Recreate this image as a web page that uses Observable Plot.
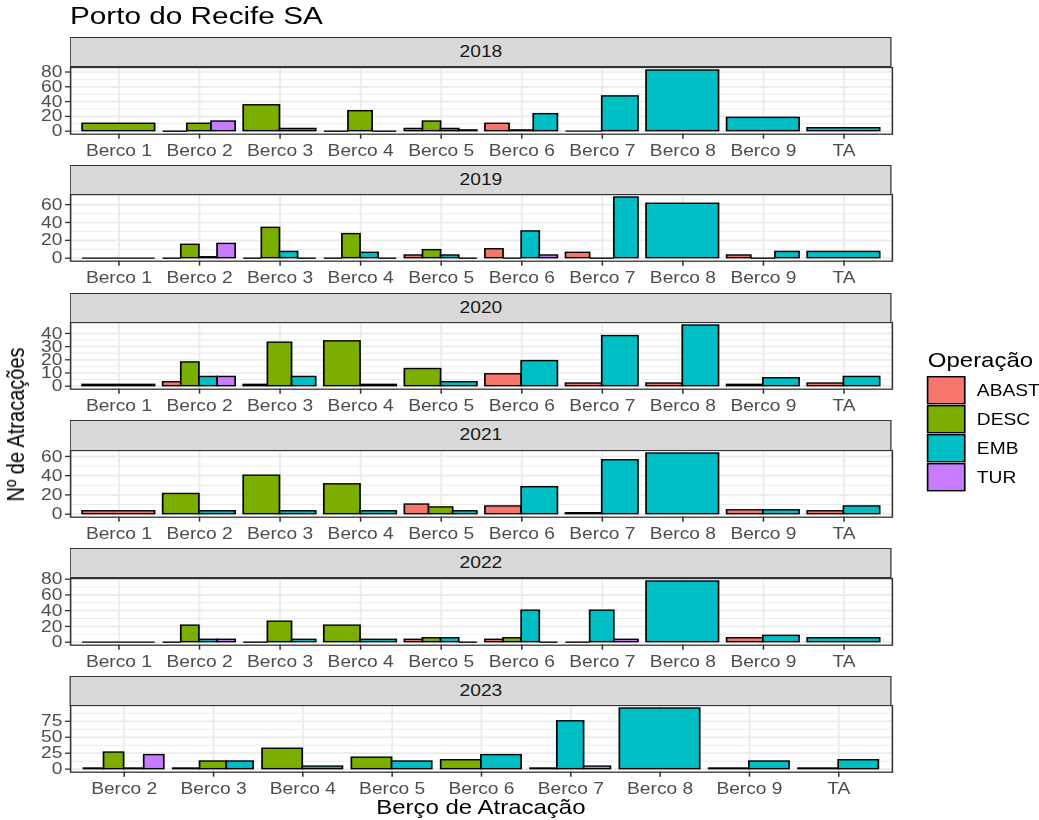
<!DOCTYPE html>
<html><head><meta charset="utf-8">
<script src="https://cdn.jsdelivr.net/npm/d3@7"></script>
<script src="https://cdn.jsdelivr.net/npm/@observablehq/plot@0.6"></script>
<style>
html,body{margin:0;padding:0;background:#fff;overflow:hidden;}
#wrap{position:relative;width:866px;height:820px;transform:scaleX(1.1998);transform-origin:0 0;font-family:"Liberation Sans",Arial,sans-serif;}
.strip{position:absolute;box-sizing:border-box;background:#D9D9D9;border:1.3px solid #333;color:#1A1A1A;font-size:16px;display:flex;align-items:center;justify-content:center;}
.panel{position:absolute;left:0;}
#overlay{position:absolute;left:0;top:0;}
</style></head><body><div id="wrap"></div>
<script>
// ---------- text ----------
const chartTitle = "Porto do Recife SA";
const xTitle = "Berço de Atracação";
const yTitle = "Nº de Atracações";
const legendTitle = "Operação";

// ---------- categories ----------
const operations = ["ABAST", "DESC", "EMB", "TUR"];
const opColors = ["#F8766D", "#7CAE00", "#00BFC4", "#C77CFF"];
const years = ["2018", "2019", "2020", "2021", "2022", "2023"];
const bercosAll = ["Berco 1", "Berco 2", "Berco 3", "Berco 4", "Berco 5", "Berco 6", "Berco 7", "Berco 8", "Berco 9", "TA"];
const bercos2023 = ["Berco 2", "Berco 3", "Berco 4", "Berco 5", "Berco 6", "Berco 7", "Berco 8", "Berco 9", "TA"];

// ---------- y tick labels per facet ----------
const yTicks2018 = [0, 20, 40, 60, 80];
const yTicks2019 = [0, 20, 40, 60];
const yTicks2020 = [0, 10, 20, 30, 40];
const yTicks2021 = [0, 20, 40, 60];
const yTicks2022 = [0, 20, 40, 60, 80];
const yTicks2023 = [0, 25, 50, 75];

// ---------- values: [berço, operação, nº de atracações] ----------
const bars2018 = [
  ["Berco 1","DESC",10],
  ["Berco 2","ABAST",0],["Berco 2","DESC",10],["Berco 2","TUR",13],
  ["Berco 3","DESC",35],["Berco 3","EMB",3],
  ["Berco 4","ABAST",0],["Berco 4","DESC",27],["Berco 4","EMB",0],
  ["Berco 5","ABAST",3],["Berco 5","DESC",13],["Berco 5","EMB",3],["Berco 5","TUR",1],
  ["Berco 6","ABAST",10],["Berco 6","DESC",1],["Berco 6","EMB",23],
  ["Berco 7","ABAST",0],["Berco 7","EMB",47],
  ["Berco 8","EMB",82],
  ["Berco 9","EMB",18],
  ["TA","EMB",4]
];
const bars2019 = [
  ["Berco 1","DESC",0],
  ["Berco 2","ABAST",0],["Berco 2","DESC",15],["Berco 2","EMB",1],["Berco 2","TUR",16],
  ["Berco 3","ABAST",0],["Berco 3","DESC",34],["Berco 3","EMB",7],["Berco 3","TUR",0],
  ["Berco 4","ABAST",0],["Berco 4","DESC",27],["Berco 4","EMB",6],["Berco 4","TUR",0],
  ["Berco 5","ABAST",3],["Berco 5","DESC",9],["Berco 5","EMB",3],["Berco 5","TUR",0],
  ["Berco 6","ABAST",10],["Berco 6","DESC",0],["Berco 6","EMB",30],["Berco 6","TUR",3],
  ["Berco 7","ABAST",6],["Berco 7","DESC",0],["Berco 7","EMB",68],
  ["Berco 8","EMB",61],
  ["Berco 9","ABAST",3],["Berco 9","DESC",0],["Berco 9","EMB",7],
  ["TA","EMB",7]
];
const bars2020 = [
  ["Berco 1","DESC",1],
  ["Berco 2","ABAST",3],["Berco 2","DESC",18],["Berco 2","EMB",7],["Berco 2","TUR",7],
  ["Berco 3","ABAST",1],["Berco 3","DESC",33],["Berco 3","EMB",7],
  ["Berco 4","DESC",34],["Berco 4","EMB",1],
  ["Berco 5","DESC",13],["Berco 5","EMB",3],
  ["Berco 6","ABAST",9],["Berco 6","EMB",19],
  ["Berco 7","ABAST",2],["Berco 7","EMB",38],
  ["Berco 8","ABAST",2],["Berco 8","EMB",46],
  ["Berco 9","ABAST",1],["Berco 9","EMB",6],
  ["TA","ABAST",2],["TA","EMB",7]
];
const bars2021 = [
  ["Berco 1","ABAST",3],
  ["Berco 2","DESC",21],["Berco 2","EMB",3],
  ["Berco 3","DESC",40],["Berco 3","EMB",3],
  ["Berco 4","DESC",31],["Berco 4","EMB",3],
  ["Berco 5","ABAST",10],["Berco 5","DESC",7],["Berco 5","EMB",3],
  ["Berco 6","ABAST",8],["Berco 6","EMB",28],
  ["Berco 7","ABAST",1],["Berco 7","EMB",56],
  ["Berco 8","EMB",63],
  ["Berco 9","ABAST",4],["Berco 9","EMB",4],
  ["TA","ABAST",3],["TA","EMB",8]
];
const bars2022 = [
  ["Berco 1","DESC",0],
  ["Berco 2","ABAST",0],["Berco 2","DESC",21],["Berco 2","EMB",3],["Berco 2","TUR",3],
  ["Berco 3","ABAST",0],["Berco 3","DESC",26],["Berco 3","EMB",3],
  ["Berco 4","DESC",21],["Berco 4","EMB",3],
  ["Berco 5","ABAST",3],["Berco 5","DESC",5],["Berco 5","EMB",5],["Berco 5","TUR",0],
  ["Berco 6","ABAST",3],["Berco 6","DESC",5],["Berco 6","EMB",40],["Berco 6","TUR",0],
  ["Berco 7","ABAST",0],["Berco 7","EMB",40],["Berco 7","TUR",3],
  ["Berco 8","EMB",77],
  ["Berco 9","ABAST",5],["Berco 9","EMB",8],
  ["TA","EMB",5]
];
const bars2023 = [
  ["Berco 2","ABAST",1],["Berco 2","DESC",26],["Berco 2","EMB",1],["Berco 2","TUR",22],
  ["Berco 3","ABAST",1],["Berco 3","DESC",12],["Berco 3","EMB",12],
  ["Berco 4","DESC",32],["Berco 4","EMB",4],
  ["Berco 5","DESC",18],["Berco 5","EMB",12],
  ["Berco 6","DESC",14],["Berco 6","EMB",22],
  ["Berco 7","ABAST",1],["Berco 7","EMB",75],["Berco 7","TUR",4],
  ["Berco 8","EMB",95],
  ["Berco 9","ABAST",1],["Berco 9","EMB",12],
  ["TA","ABAST",1],["TA","EMB",14]
];

const facetBars = [bars2018, bars2019, bars2020, bars2021, bars2022, bars2023];
const facetTicks = [yTicks2018, yTicks2019, yTicks2020, yTicks2021, yTicks2022, yTicks2023];
const facetCats = [bercosAll, bercosAll, bercosAll, bercosAll, bercosAll, bercos2023];

// ---------- layout (base, unscaled-x coordinates) ----------
const W = 866;
const panelLeft = 58.3, panelRight = 743.3;
const stripTop0 = 37.3, pitch = 127.7, stripH = 29.4, panelH = 66.7;
const fontFam = '"Liberation Sans", Arial, sans-serif';

// ggplot-like dodge: width 0.9 split among bars present at each x
function dodge(rows, cats) {
  const out = [];
  cats.forEach((c, ci) => {
    const g = rows.filter(r => r[0] === c)
      .sort((a, b) => operations.indexOf(a[1]) - operations.indexOf(b[1]));
    const n = g.length;
    g.forEach((r, i) => out.push({
      berco: c, op: r[1], v: r[2],
      x1: ci - 0.45 + i * 0.9 / n,
      x2: ci - 0.45 + (i + 1) * 0.9 / n
    }));
  });
  return out;
}

const wrap = document.getElementById("wrap");

years.forEach((yr, k) => {
  const cats = facetCats[k];
  const rows = dodge(facetBars[k], cats);
  const vmax = d3.max(rows, d => d.v);
  const yDom = [-0.05 * vmax, 1.05 * vmax];
  const majors = facetTicks[k];
  const step = majors[1] - majors[0];
  const minors = majors.map(t => t + step / 2).filter(t => t <= yDom[1]);
  const idx = cats.map((c, i) => i);

  const stripTop = stripTop0 + k * pitch;
  const panelTop = stripTop + stripH;

  const strip = document.createElement("div");
  strip.className = "strip";
  strip.style.left = panelLeft + "px";
  strip.style.width = (panelRight - panelLeft) + "px";
  strip.style.top = stripTop + "px";
  strip.style.height = (stripH + 0.8) + "px";
  strip.textContent = yr;

  const mTop = 2, mBottom = 30;
  const plot = Plot.plot({
    width: W,
    height: mTop + panelH + mBottom,
    marginTop: mTop,
    marginBottom: mBottom,
    marginLeft: panelLeft,
    marginRight: W - panelRight,
    style: {fontFamily: fontFam, fontSize: "16px", background: "transparent", overflow: "visible"},
    x: {domain: [-0.6, cats.length - 0.4], axis: null},
    y: {domain: yDom, axis: null},
    color: {domain: operations, range: opColors},
    marks: [
      Plot.gridY(minors, {stroke: "#EBEBEB", strokeOpacity: 1, strokeWidth: 0.9}),
      Plot.gridY(majors, {stroke: "#EBEBEB", strokeOpacity: 1, strokeWidth: 1.7}),
      Plot.gridX(idx, {stroke: "#EBEBEB", strokeOpacity: 1, strokeWidth: 1.5}),
      Plot.rect(rows, {x1: "x1", x2: "x2", y1: 0, y2: "v", fill: "op", stroke: "black", strokeWidth: 1.4}),
      Plot.ruleY(rows.filter(d => d.v === 0), {y: 0, x1: "x1", x2: "x2", stroke: "black", strokeWidth: 1.4}),
      Plot.frame({stroke: "#333333", strokeWidth: 1.3}),
      Plot.axisY(majors, {tickSize: 4.2, tickPadding: 2.6, stroke: "#333333", fill: "#4D4D4D", fontSize: 16, label: null, strokeWidth: 1.3}),
      Plot.axisX(idx, {tickSize: 5, tickPadding: 5, tickFormat: i => cats[i], stroke: "#333333", fill: "#4D4D4D", fontSize: 16, label: null, strokeWidth: 1.3})
    ]
  });
  plot.classList.add("panel");
  plot.style.top = (panelTop - mTop) + "px";
  plot.style.maxWidth = "none";
  wrap.appendChild(plot);
  wrap.appendChild(strip);
});

// ---------- titles & legend ----------
const svg = d3.select(wrap).append("svg")
  .attr("id", "overlay").attr("width", W).attr("height", 820)
  .style("font-family", fontFam);

svg.append("text").attr("x", panelLeft).attr("y", 24.5)
  .attr("font-size", 24.8).attr("fill", "black").text(chartTitle);

svg.append("text").attr("x", (panelLeft + panelRight) / 2).attr("y", 814)
  .attr("text-anchor", "middle").attr("font-size", 20).attr("fill", "black").text(xTitle);

svg.append("text").attr("transform", "translate(20,424.5) rotate(-90)")
  .attr("text-anchor", "middle").attr("font-size", 20).attr("fill", "black").text(yTitle);

const legX = 773.1, legY0 = 376.7, keyW = 31, keyH = 27, keyPitch = 29;
svg.append("text").attr("x", 773.3).attr("y", 367)
  .attr("font-size", 20).attr("fill", "black").text(legendTitle);
const colorOf = d3.scaleOrdinal(operations, opColors);
operations.forEach((op, i) => {
  svg.append("rect").attr("x", legX).attr("y", legY0 + i * keyPitch)
    .attr("width", keyW).attr("height", keyH)
    .attr("fill", colorOf(op)).attr("stroke", "black").attr("stroke-width", 1.4);
  svg.append("text").attr("x", 814.2).attr("y", legY0 + i * keyPitch + keyH / 2)
    .attr("dy", "0.35em").attr("font-size", 16).attr("fill", "black").text(op);
});
</script>
</body></html>
